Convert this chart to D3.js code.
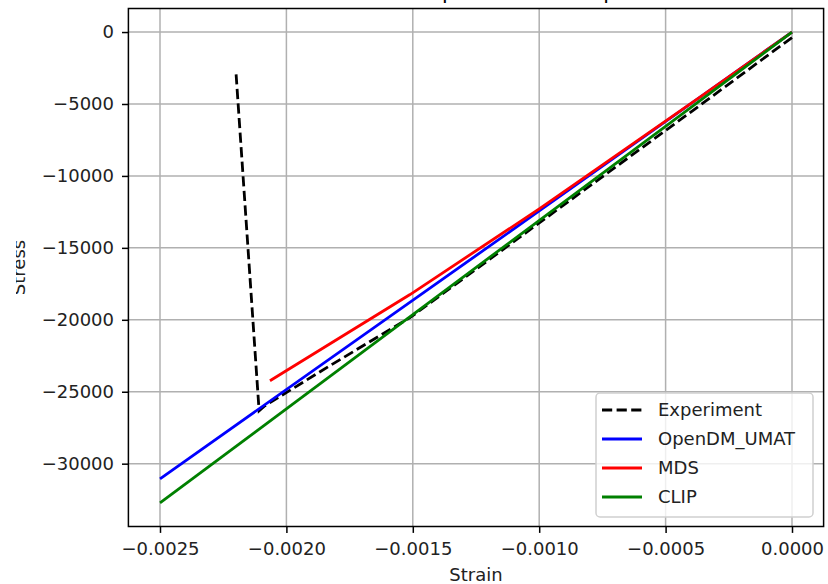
<!DOCTYPE html>
<html>
<head>
<meta charset="utf-8">
<script src="https://cdn.jsdelivr.net/npm/d3@7"></script>
<style>
  body { margin: 0; background: #fff; }
  text { font-family: "DejaVu Sans", sans-serif; }
</style>
</head>
<body>
<div id="chart"></div>
<script>
// values
var seriesNames = ['Experiment', 'OpenDM_UMAT', 'MDS', 'CLIP'];

var expStrain = [0, -0.000364, -0.000997, -0.001511, -0.001828, -0.002085, -0.002108, -0.002199];
var expStress = [-380, -5090, -13230, -19847, -23189, -25975, -26323, -2925];

var umatStrain = [0, -0.000997, -0.0025];
var umatStress = [0, -12400, -31050];

var mdsStrain = [0, -0.000364, -0.000997, -0.001511, -0.002065];
var mdsStress = [0, -4526, -12256, -18245, -24234];

var clipStrain = [0, -0.0025];
var clipStress = [0, -32730];

var xTicks = [-0.0025, -0.0020, -0.0015, -0.0010, -0.0005, 0.0000];
var yTicks = [0, -5000, -10000, -15000, -20000, -25000, -30000];

window.onload = function() {

  var W = 828, H = 584;
  var margin = { top: 8.5, left: 128.4, bottom: 57.5, right: 4.4 };
  var width = W - margin.left - margin.right;
  var height = H - margin.top - margin.bottom;

  var series = [
    { name: seriesNames[0], strain: expStrain, stress: expStress, color: '#000000', dash: '10.2,4.4' },
    { name: seriesNames[1], strain: umatStrain, stress: umatStress, color: '#0000ff', dash: null },
    { name: seriesNames[2], strain: mdsStrain, stress: mdsStress, color: '#ff0000', dash: null },
    { name: seriesNames[3], strain: clipStrain, stress: clipStress, color: '#008000', dash: null }
  ];

  // matplotlib style 5% padding
  var allX = [].concat(expStrain, umatStrain, mdsStrain, clipStrain);
  var allY = [].concat(expStress, umatStress, mdsStress, clipStress);
  var xMin = d3.min(allX), xMax = d3.max(allX);
  var yMin = d3.min(allY), yMax = d3.max(allY);
  var xPad = (xMax - xMin) * 0.05, yPad = (yMax - yMin) * 0.05;

  var x = d3.scaleLinear()
    .domain([xMin - xPad, xMax + xPad])
    .range([0, width]);

  var y = d3.scaleLinear()
    .domain([yMin - yPad, yMax + yPad])
    .range([height, 0]);

  var svg = d3.select('#chart')
    .append('svg')
    .attr('width', W)
    .attr('height', H);

  // title, mostly cut off at the top edge (as in the picture)
  svg.append('text')
    .attr('x', margin.left + width / 2)
    .attr('y', -1)
    .attr('text-anchor', 'middle')
    .style('font-size', '21px')
    .text('Stress-Strain Comparison with Experiment');

  var g = svg.append('g')
    .attr('transform', 'translate(' + margin.left + ',' + margin.top + ')');

  var fmtMinus = function(s) { return s.replace('-', '\u2212'); };

  // grid
  g.append('g')
    .selectAll('line')
    .data(xTicks)
    .enter().append('line')
    .attr('x1', (d) => x(d)).attr('x2', (d) => x(d))
    .attr('y1', 0).attr('y2', height)
    .attr('stroke', '#b0b0b0')
    .attr('stroke-width', 1.5);

  g.append('g')
    .selectAll('line')
    .data(yTicks)
    .enter().append('line')
    .attr('y1', (d) => y(d)).attr('y2', (d) => y(d))
    .attr('x1', 0).attr('x2', width)
    .attr('stroke', '#b0b0b0')
    .attr('stroke-width', 1.5);

  // axes
  var xAxis = d3.axisBottom(x)
    .tickValues(xTicks)
    .tickSize(6.4)
    .tickPadding(9)
    .tickFormat((d) => fmtMinus(d3.format('.4f')(d)));

  var yAxis = d3.axisLeft(y)
    .tickValues(yTicks)
    .tickSize(6.4)
    .tickPadding(8)
    .tickFormat((d) => fmtMinus(String(d)));

  var gx = g.append('g')
    .attr('transform', 'translate(0,' + height + ')')
    .call(xAxis);

  var gy = g.append('g')
    .call(yAxis);

  [gx, gy].forEach(function(a) {
    a.select('.domain').remove();
    a.selectAll('line').attr('stroke', '#000').attr('stroke-width', 1.5);
    a.selectAll('text')
      .attr('fill', '#222')
      .style('font-size', '18px')
      .style('font-family', '"DejaVu Sans", sans-serif');
  });

  // lines
  var line = d3.line()
    .x((d) => x(d[0]))
    .y((d) => y(d[1]));

  series.forEach(function(s) {
    var pts = s.strain.map((v, i) => [v, s.stress[i]]);
    g.append('path')
      .datum(pts)
      .attr('fill', 'none')
      .attr('stroke', s.color)
      .attr('stroke-width', 2.8)
      .attr('stroke-dasharray', s.dash)
      .attr('d', line);
  });

  // frame
  g.append('rect')
    .attr('width', width)
    .attr('height', height)
    .attr('fill', 'none')
    .attr('stroke', '#000')
    .attr('stroke-width', 1.5);

  // axis labels
  svg.append('text')
    .attr('x', margin.left + width / 2)
    .attr('y', 581)
    .attr('text-anchor', 'middle')
    .attr('fill', '#222')
    .style('font-size', '18px')
    .text('Strain');

  // y label, its top is clipped off like in the picture
  svg.append('clipPath')
    .attr('id', 'ylab-clip')
    .append('rect')
    .attr('x', 16).attr('y', 0)
    .attr('width', 100).attr('height', H);

  svg.append('g')
    .attr('clip-path', 'url(#ylab-clip)')
    .append('text')
    .attr('transform', 'translate(25,' + (margin.top + height / 2) + ') rotate(-90)')
    .attr('text-anchor', 'middle')
    .attr('fill', '#222')
    .style('font-size', '18px')
    .text('Stress');

  // legend
  var leg = svg.append('g')
    .attr('transform', 'translate(596,393)');

  leg.append('rect')
    .attr('width', 217)
    .attr('height', 124)
    .attr('rx', 4)
    .attr('fill', '#fff')
    .attr('fill-opacity', 0.8)
    .attr('stroke', '#d0d0d0')
    .attr('stroke-width', 1.5);

  var rows = leg.selectAll('.row')
    .data(series)
    .enter().append('g')
    .attr('class', 'row')
    .attr('transform', (d, i) => 'translate(0,' + (17 + i * 29) + ')');

  rows.append('line')
    .attr('x1', 6).attr('x2', 46)
    .attr('stroke', (d) => d.color)
    .attr('stroke-width', 2.8)
    .attr('stroke-dasharray', (d) => d.dash);

  rows.append('text')
    .attr('x', 62)
    .attr('dy', '0.35em')
    .attr('fill', '#222')
    .style('font-size', '18px')
    .text((d) => d.name);
};
</script>
</body>
</html>
